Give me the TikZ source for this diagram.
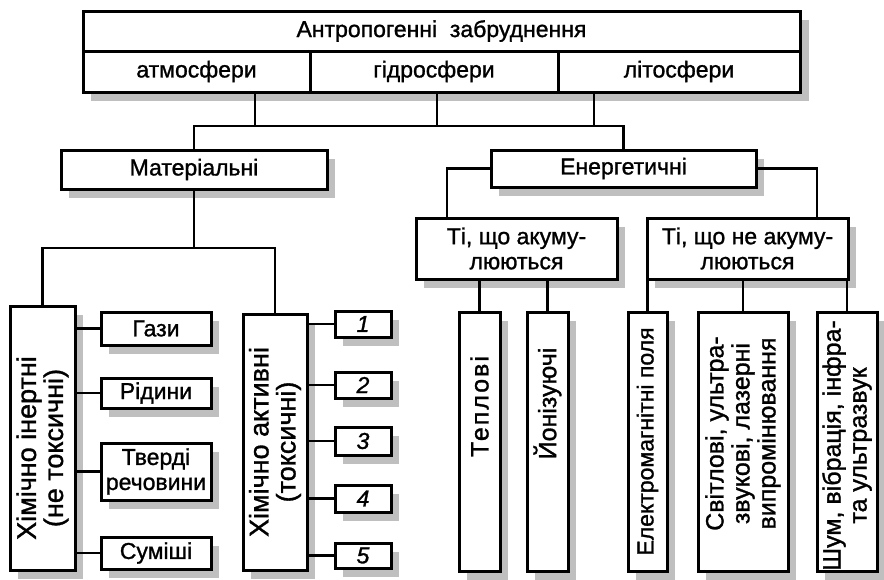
\documentclass[tikz,border=0pt]{standalone}
\usepackage{fontspec}
\setmainfont{Liberation Sans}[FakeBold=1.2]
\newcommand\fs{\fontsize{23}{25}\selectfont}
\newcommand\fv{\fontsize{25}{26}\selectfont}
\newcommand\fw{\fontsize{27}{27}\selectfont}
\tikzset{
  box/.style={draw, line width=3pt, fill=white, inner sep=0pt, align=center, font=\fs},
  shd/.style={fill=gray!50},
  ln/.style={line width=2.8pt},
  vtext/.style={rotate=90, align=center, inner sep=0pt, font=\fv},
}
% name, x1, y1, x2, y2, text  (with shadow)
\newcommand\bx[6]{%
  \fill[shd] ({#2+8},{#3+9}) rectangle ({#4+8},{#5+9});
  \node[box, minimum width={(#4-#2)*1pt}, minimum height={(#5-#3)*1pt}] (#1) at ({(#2+#4)/2},{(#3+#5)/2}) {#6};}
% same, no shadow
\newcommand\nb[6]{%
  \node[box, minimum width={(#4-#2)*1pt}, minimum height={(#5-#3)*1pt}] (#1) at ({(#2+#4)/2},{(#3+#5)/2}) {#6};}
\begin{document}
\begin{tikzpicture}[x=1pt,y=-1pt]
\useasboundingbox[fill=white] (0,0) rectangle (884,579);

% top block
\fill[shd] (91,20) rectangle (809,101);
\nb{top}{83}{11}{800}{51}{Антропогенні \ забруднення}
\nb{atm}{83}{51}{310}{92}{атмосфери}
\nb{gid}{310}{51}{558}{92}{гідросфери}
\nb{lit}{558}{51}{800}{92}{літосфери}

% level 2
\bx{mat}{61}{150}{327}{189}{Матеріальні}
\bx{en}{491}{150}{756}{187}{Енергетичні}

% material branch
\bx{inert}{10}{306}{75}{570}{}
\bx{active}{243}{314}{307}{570}{}
\node[vtext, font=\fw] (tinert) at ([yshift=-10pt]inert.center) {Хімічно інертні\\(не токсичні)};
\node[vtext, font=\fw] (tactive) at (active.center) {Хімічно активні\\(токсичні)};

\bx{gazy}{101}{312}{211}{345}{Гази}
\bx{ridyny}{101}{378}{211}{408}{Рідини}
\bx{tverdi}{101}{443}{211}{500}{Тверді\\речовини}
\bx{sumishi}{101}{537}{211}{569}{Суміші}

\bx{n1}{335}{311}{391}{337}{\itshape 1}
\bx{n2}{335}{372}{391}{398}{\itshape 2}
\bx{n3}{335}{427}{391}{455}{\itshape 3}
\bx{n4}{335}{485}{391}{512}{\itshape 4}
\bx{n5}{335}{543}{391}{568}{\itshape 5}

% energy branch
\bx{ak}{416}{218}{617}{279}{Ті, що акуму-\\люються}
\bx{nak}{647}{218}{848}{279}{Ті, що не акуму-\\люються}

\bx{tep}{459}{312}{500}{571}{}
\bx{yon}{527}{312}{568}{571}{}
\bx{elek}{628}{312}{667}{571}{}
\bx{svit}{698}{312}{788}{571}{}
\bx{shum}{817}{312}{877}{571}{}
\node[vtext] (ttep) at ([yshift=35pt]tep.center) {\addfontfeature{LetterSpace=8}Теплові};
\node[vtext] (tyon) at ([yshift=38pt]yon.center) {Йонізуючі};
\node[vtext, font=\fs] (telek) at (elek.center) {Електромагнітні поля};
\node[vtext] (tsvit) at ([yshift=8pt]svit.center) {Світлові, ультра-\\звукові, лазерні\\випромінювання};
\node[vtext] (tshum) at ([yshift=-4pt]shum.center) {Шум, вібрація, інфра-\\та ультразвук};

% connectors
\coordinate (j1) at (255,126);
\coordinate (j2) at (437,126);
\coordinate (j3) at (594,126);
\draw[ln] (j1 |- atm.south) -- (j1);
\draw[ln] (j2 |- gid.south) -- (j2);
\draw[ln] (j3 |- lit.south) -- (j3);
\draw[ln] (mat.north) -- (mat.north |- j1) -- (en.north |- j1) -- (en.north);

\coordinate (m2) at (0,248);
\draw[ln] (mat.south) -- (mat.south |- m2);
\draw[ln] (inert.north) -- (inert.north |- m2) -- (active.north |- m2) -- (active.north);

\foreach \c in {gazy,ridyny,tverdi,sumishi}
  \draw[ln] (\c.west) -- (\c.west -| inert.east);
\foreach \c in {n1,n2,n3,n4,n5}
  \draw[ln] (\c.west) -- (\c.west -| active.east);

\coordinate (e1) at (447,0);
\coordinate (e2) at (817,0);
\draw[ln] (en.west) -- (e1 |- en.west) -- (e1 |- ak.north);
\draw[ln] (en.east) -- (e2 |- en.east) -- (e2 |- nak.north);

\foreach \c in {tep,yon}
  \draw[ln] (\c.north) -- (\c.north |- ak.south);
\foreach \c in {elek,svit,shum}
  \draw[ln] (\c.north) -- (\c.north |- nak.south);
\end{tikzpicture}
\end{document}
